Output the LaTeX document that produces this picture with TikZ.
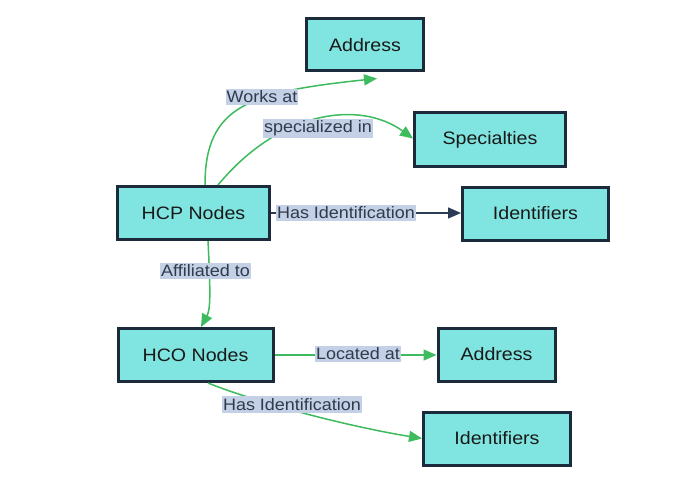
\documentclass[tikz,border=0pt]{standalone}
\usepackage{fontspec}
\setmainfont{Liberation Sans}[FakeStretch=1.09]
\usetikzlibrary{arrows.meta}
\definecolor{boxfill}{HTML}{80E5E0}
\definecolor{boxline}{HTML}{1B2B3B}
\definecolor{lblbg}{HTML}{C3D0E6}
\definecolor{lbltxt}{HTML}{2F3B4C}
\definecolor{edgegreen}{HTML}{3DBB5E}
\definecolor{edgedark}{HTML}{2B3A55}
\begin{document}
\begin{tikzpicture}[x=1pt,y=-1pt,
  entity/.style={draw=boxline, line width=3pt, fill=boxfill, inner sep=0pt,
    font=\fontsize{18}{20}\selectfont, text=black!90},
  lbl/.style={fill=lblbg, text=lbltxt, inner xsep=1pt, inner ysep=2pt,
    font=\fontsize{16.5}{18}\selectfont},
  gedge/.style={draw=edgegreen, line width=1.5pt, -{Triangle[length=13pt,width=11pt]}},
  dedge/.style={draw=edgedark, line width=1.5pt, -{Triangle[length=13pt,width=11pt]}}]
\useasboundingbox (0,0) rectangle (698,500);
\fill[white] (0,0) rectangle (698,500);

\node[entity, minimum width=117pt, minimum height=52pt] (addr1) at (365,45) {Address};
\node[entity, minimum width=151pt, minimum height=53pt] (spec) at (490,139.5) {Specialties};
\node[entity, minimum width=152pt, minimum height=53pt] (hcp) at (193.5,213) {HCP Nodes};
\node[entity, minimum width=146pt, minimum height=53pt] (id1) at (535.5,213.5) {Identifiers};
\node[entity, minimum width=155pt, minimum height=53pt] (hco) at (195.5,355) {HCO Nodes};
\node[entity, minimum width=117pt, minimum height=53pt] (addr2) at (496.5,354.5) {Address};
\node[entity, minimum width=147pt, minimum height=53pt] (id2) at (497,438.5) {Identifiers};

% Works at
\draw[gedge] ([xshift=11.5pt]hcp.north) .. controls (205,105) and (250,92) .. ([xshift=12pt,yshift=-6pt]addr1.south);
\node[lbl] (lworks) at (262,97) {Works at};
% specialized in
\draw[gedge] ([xshift=24.5pt]hcp.north) .. controls (280,110) and (360,100) .. ([yshift=1pt]spec.west);
\node[lbl] (lspec) at (318,128.5) {specialized in};
% Has Identification (HCP)
\draw[dedge] (hcp.east) -- (id1.west |- hcp.east);
\node[lbl] (lhasid1) at (346,213) {Has Identification};
% Affiliated to
\draw[gedge] ([xshift=14.5pt]hcp.south) .. controls (211,300) and (210,310) .. ([xshift=5.5pt]hco.north);
\node[lbl] (laff) at (205.5,271) {Affiliated to};
% Located at
\draw[gedge] (hco.east) -- (addr2.west |- hco.east);
\node[lbl] (lloc) at (358,354) {Located at};
% Has Identification (HCO)
\draw[gedge] ([xshift=12.5pt]hco.south) .. controls (250,400) and (340,425) .. (id2.west);
\node[lbl] (lhasid2) at (292,404.5) {Has Identification};
\end{tikzpicture}
\end{document}
